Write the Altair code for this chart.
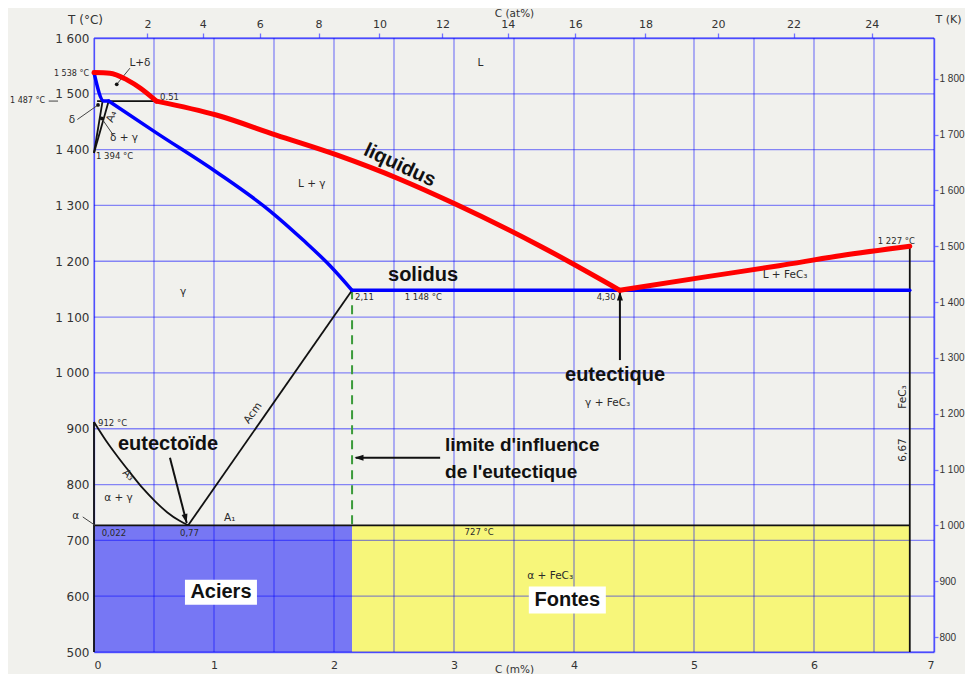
import altair as alt
import pandas as pd

# ---------------- data: carbon in mass %, temperature in °C ----------------
# liquidus (red), three branches: L+δ, hypo-eutectic, hyper-eutectic
liq_seg = ["a"] * 5 + ["b"] * 8 + ["c"] * 5
liq_x = [0, 0.13, 0.27, 0.38, 0.51,
         0.51, 1.00, 1.49, 1.99, 2.50, 2.95, 3.65, 4.30,
         4.30, 5.0, 5.6, 6.1, 6.67]
liq_T = [1538, 1537, 1525, 1510, 1487,
         1487, 1462, 1426, 1390, 1347, 1303, 1227, 1148,
         1148, 1172, 1192, 1210, 1227]

# solidus (blue)
sol_seg = ["a"] * 3 + ["b"] * 7 + ["c"] * 2
sol_x = [0, 0.08, 0.12,
         0.12, 0.51, 1.00, 1.44, 1.71, 1.93, 2.11,
         2.11, 6.67]
sol_T = [1538, 1487, 1487,
         1487, 1430, 1360, 1290, 1238, 1192, 1148,
         1148, 1148]

# other phase boundaries (black)
black_lines = {
    "peritectic": ([0.025, 0.51], [1487, 1487]),
    "delta": ([0, 0.07], [1394, 1487]),
    "A4": ([0, 0.12], [1394, 1487]),
    "alpha": ([0, 0], [500, 912]),
    "A3": ([0, 0.1, 0.2, 0.3, 0.4, 0.5, 0.6, 0.7, 0.77],
           [912, 878, 848, 820, 793, 770, 750, 735, 727]),
    "Acm": ([0.77, 2.11], [727, 1148]),
    "A1": ([0, 6.67], [727, 727]),
    "FeC3": ([6.67, 6.67], [500, 1227]),
}

# thin leader lines
leader_lines = {
    "Ldelta": ([0.294, 0.186], [1546, 1517]),
    "delta": ([-0.136, 0.033], [1454, 1480]),
    "dg": ([0.164, 0.063], [1424, 1456]),
    "alpha": ([-0.092, 0.008], [742, 727]),
    "t1487": ([-0.37, -0.294], [1487, 1487]),
}
dot_x = [0.186, 0.033, 0.063]
dot_T = [1517, 1480, 1456]

# arrows
arrow_lines = {
    "eutectique": ([4.30, 4.30], [1023, 1146]),
    "limite": ([2.83, 2.14], [848, 848]),
    "eutectoide": ([0.621, 0.758], [848, 731]),
}
head_x = [4.30, 2.13, 0.758]
head_T = [1146, 848, 731]
head_angle = [0, 270, 166]

# limit of influence of the eutectic (green dashed)
green_x = [2.11, 2.11]
green_T = [1148, 727]

# filled regions
reg_name = ["Aciers", "Fontes"]
reg_x0 = [0, 2.11]
reg_x1 = [2.11, 6.67]
reg_T0 = [500, 500]
reg_T1 = [727, 727]

# labels
small_txt = ["L", "L+δ", "δ", "δ + γ", "L + γ", "γ", "γ + FeC₃", "L + FeC₃", "α + γ", "α", "α + FeC₃", "A₁"]
small_x = [3.16, 0.376, -0.18, 0.245, 1.78, 0.728, 4.20, 5.65, 0.20, -0.15, 3.73, 1.11]
small_T = [1555, 1555, 1453, 1421, 1338, 1145, 946, 1175, 776, 744, 636, 740]

tinyL_txt = ["0.51", "1 394 °C", "2,11", "1 148 °C", "4,30", "912 °C", "0,022", "0,77", "727 °C"]
tinyL_x = [0.54, 0.016, 2.134, 2.54, 4.11, 0.033, 0.063, 0.703, 3.03]
tinyL_T = [1494, 1389, 1136, 1136, 1136, 910, 713, 713, 715]

tinyR_txt = ["1 538 °C", "1 487 °C"]
tinyR_x = [-0.041, -0.40]
tinyR_T = [1536, 1487]

tinyC_txt = ["1 227 °C"]
tinyC_x = [6.56]
tinyC_T = [1237]

rot_txt = ["FeC₃", "6,67", "A₄", "A₃", "Acm"]
rot_x = [6.614, 6.614, 0.145, 0.28, 1.30]
rot_T = [957, 862, 1459, 817, 928]
rot_a = [270, 270, 290, 45, 305]

bold_txt = ["liquidus", "solidus", "eutectique", "eutectoïde", "Aciers", "Fontes"]
bold_x = [2.50, 2.69, 4.26, 0.605, 1.038, 3.87]
bold_T = [1372, 1175, 996, 873, 607, 593]
bold_a = [25, 0, 0, 0, 0, 0]

boldL_txt = ["limite d'influence", "de l'eutectique"]
boldL_x = [2.87, 2.87]
boldL_T = [871, 822]

box_x = [1.038, 3.87]
box_T = [607, 593]

# axes
top_at = [2, 4, 6, 8, 10, 12, 14, 16, 18, 20, 22, 24]
bottom_m = [0, 1, 2, 3, 4, 5, 6, 7]
grid_m = [0, 0.5, 1, 1.5, 2, 2.5, 3, 3.5, 4, 4.5, 5, 5.5, 6, 6.5, 7]
grid_T = [500, 600, 700, 800, 900, 1000, 1100, 1200, 1300, 1400, 1500, 1600]
kelvin = [800, 900, 1000, 1100, 1200, 1300, 1400, 1500, 1600, 1700, 1800]

MC, MFE = 12.011, 55.845
top_wt = [100 * MC * a / (MC * a + MFE * (100 - a)) for a in top_at]

# ---------------- helpers ----------------
WT = alt.Scale(domain=[0, 6.868], nice=False, zero=False)
TC = alt.Scale(domain=[500, 1600], nice=False, zero=False)
MS = alt.Scale(domain=[0, 7], nice=False, zero=False)
KS = alt.Scale(domain=[773.15, 1873.15], nice=False, zero=False)


def paths(d):
    rows = []
    for name, (xs, ts) in d.items():
        for i, (x, t) in enumerate(zip(xs, ts)):
            rows.append({"s": name, "i": i, "x": x, "T": t})
    return pd.DataFrame(rows)


def seg_df(segs, xs, ts):
    return pd.DataFrame({"s": segs, "i": list(range(len(xs))), "x": xs, "T": ts})


def xy():
    return dict(x=alt.X("x:Q", scale=WT, axis=None), y=alt.Y("T:Q", scale=TC, axis=None))


def line_layer(df, **kw):
    return alt.Chart(df).mark_line(**kw).encode(detail="s:N", order="i:Q", **xy())


def text_layer(txt, xs, ts, angles=None, **kw):
    df = pd.DataFrame({"t": txt, "x": xs, "T": ts})
    enc = dict(text="t:N", **xy())
    if angles is not None:
        df["a"] = angles
        enc["angle"] = alt.Angle("a:Q", scale=None)
    return alt.Chart(df).mark_text(baseline="middle", **kw).encode(**enc)


BLUE = "#0000ff"
DOMAIN = "#7070ff"
TXT = "#2a2a2a"
thousands = "replace(format(datum.value, ','), ',', ' ')"

# ---------------- layers ----------------
fills = alt.Chart(pd.DataFrame({"n": reg_name, "x": reg_x0, "x2": reg_x1, "T": reg_T0, "T2": reg_T1})).mark_rect().encode(
    x=alt.X("x:Q", scale=WT, axis=None), x2="x2:Q",
    y=alt.Y("T:Q", scale=TC, axis=None), y2="T2:Q",
    color=alt.Color("n:N", scale=alt.Scale(domain=reg_name, range=["#7777f4", "#f7f67a"]), legend=None),
)

grid_v = alt.Chart(pd.DataFrame({"g": grid_m})).mark_rule(color=BLUE, opacity=0.45, strokeWidth=1.3).encode(
    x=alt.X("g:Q", scale=MS, axis=alt.Axis(
        orient="bottom", values=bottom_m, title="C (m%)", grid=False, ticks=False, tickSize=0,
        labelPadding=7, labelFontSize=11, domainColor=DOMAIN, domainWidth=1.3,
        titleFontSize=10.5, titleFontWeight="normal", titleY=17, titleBaseline="middle")),
)
grid_h = alt.Chart(pd.DataFrame({"g": grid_T})).mark_rule(color=BLUE, opacity=0.45, strokeWidth=1.3).encode(
    y=alt.Y("g:Q", scale=TC, axis=alt.Axis(
        orient="left", values=grid_T, labelExpr=thousands, title="T (°C)", grid=False, ticks=False,
        tickSize=0, labelPadding=5, labelFontSize=12, domainColor=DOMAIN, domainWidth=1.3,
        titleAngle=0, titleX=-9, titleY=-19, titleAlign="center", titleBaseline="middle",
        titleFontSize=12, titleFontWeight="normal")),
)

green = alt.Chart(pd.DataFrame({"x": green_x, "T": green_T})).mark_line(
    color="#3b9b3b", strokeWidth=2, strokeDash=[9, 6]).encode(**xy())

blacks = line_layer(paths(black_lines), color="#111111", strokeWidth=1.8, interpolate="monotone")
leaders = line_layer(paths(leader_lines), color="#444444", strokeWidth=1)
arrows = line_layer(paths(arrow_lines), color="#111111", strokeWidth=2)

heads = alt.Chart(pd.DataFrame({"x": head_x, "T": head_T, "a": head_angle})).mark_point(
    shape="M0,0L-0.6,1.8L0.6,1.8Z", filled=True, color="#111111", opacity=1, size=100, strokeWidth=0).encode(
    angle=alt.Angle("a:Q", scale=None), **xy())

dots = alt.Chart(pd.DataFrame({"x": dot_x, "T": dot_T})).mark_point(
    shape="circle", filled=True, color="#111111", opacity=1, size=14).encode(**xy())

solidus = line_layer(seg_df(sol_seg, sol_x, sol_T), color=BLUE, strokeWidth=3.5,
                     interpolate="monotone", strokeCap="round", strokeJoin="round")
liquidus = line_layer(seg_df(liq_seg, liq_x, liq_T), color="#ff0000", strokeWidth=5,
                      interpolate="monotone", strokeCap="round", strokeJoin="round")

box_a = alt.Chart(pd.DataFrame({"x": box_x[:1], "T": box_T[:1]})).mark_point(
    shape="M-1,-0.35H1V0.35H-1Z", filled=True, color="white", opacity=1, size=5184, strokeWidth=0).encode(**xy())
box_f = alt.Chart(pd.DataFrame({"x": box_x[1:], "T": box_T[1:]})).mark_point(
    shape="M-1,-0.35H1V0.35H-1Z", filled=True, color="white", opacity=1, size=5929, strokeWidth=0).encode(**xy())

t_small = text_layer(small_txt, small_x, small_T, font="DejaVu Sans", fontSize=10.5, color=TXT, align="center")
t_tinyL = text_layer(tinyL_txt, tinyL_x, tinyL_T, font="DejaVu Sans", fontSize=8.5, color=TXT, align="left")
t_tinyR = text_layer(tinyR_txt, tinyR_x, tinyR_T, font="DejaVu Sans", fontSize=8, color=TXT, align="right")
t_tinyC = text_layer(tinyC_txt, tinyC_x, tinyC_T, font="DejaVu Sans", fontSize=8.5, color=TXT, align="center")
t_rot = text_layer(rot_txt, rot_x, rot_T, rot_a, font="DejaVu Sans", fontSize=10.5, color=TXT, align="center")
t_bold = text_layer(bold_txt, bold_x, bold_T, bold_a, font="Liberation Sans", fontSize=20,
                    fontWeight="bold", color="#111111", align="center")
t_boldL = text_layer(boldL_txt, boldL_x, boldL_T, font="Liberation Sans", fontSize=19,
                     fontWeight="bold", color="#111111", align="left")

hidden = alt.Chart(pd.DataFrame({"x": [0], "K": [800]})).mark_point(opacity=0).encode(
    x=alt.X("x:Q", scale=WT, axis=alt.Axis(
        orient="top", values=top_wt,
        labelExpr="format(100*(datum.value/12.011)/(datum.value/12.011+(100-datum.value)/55.845), '.0f')",
        title="C (at%)", grid=False, tickColor=DOMAIN, tickSize=5, tickWidth=1.3,
        domainColor=DOMAIN, domainWidth=1.5, labelPadding=4, labelFontSize=11,
        titleFontSize=10.5, titleFontWeight="normal", titleY=-25, titleBaseline="middle")),
    y=alt.Y("K:Q", scale=KS, axis=alt.Axis(
        orient="right", values=kelvin, labelExpr=thousands, title="T (K)", grid=False,
        tickColor=DOMAIN, tickSize=4, tickWidth=1.3, domainColor=DOMAIN, domainWidth=1.5,
        labelPadding=1, labelFontSize=10, labelFont="Liberation Sans",
        titleAngle=0, titleX=14, titleY=-19,
        titleAlign="center", titleBaseline="middle", titleFontSize=11, titleFontWeight="normal")),
)

chart = alt.layer(
    fills, grid_v, grid_h, green, blacks, leaders, arrows, heads, dots, solidus, liquidus,
    box_a, box_f, t_small, t_tinyL, t_tinyR, t_tinyC, t_rot, t_bold, t_boldL, hidden,
).resolve_scale(x="independent", y="independent").resolve_axis(
    x="independent", y="independent"
).properties(
    width=840, height=614,
    padding={"left": 86, "top": 30, "right": 31, "bottom": 22},
    autosize=alt.AutoSizeParams(type="none"),
    background="#f1f1ed",
).configure_view(strokeWidth=0).configure_axis(
    labelFont="DejaVu Sans", titleFont="DejaVu Sans", labelColor="#333333", titleColor="#333333"
)

chart.save("out.html", embed_options={"renderer": "svg", "actions": False})
